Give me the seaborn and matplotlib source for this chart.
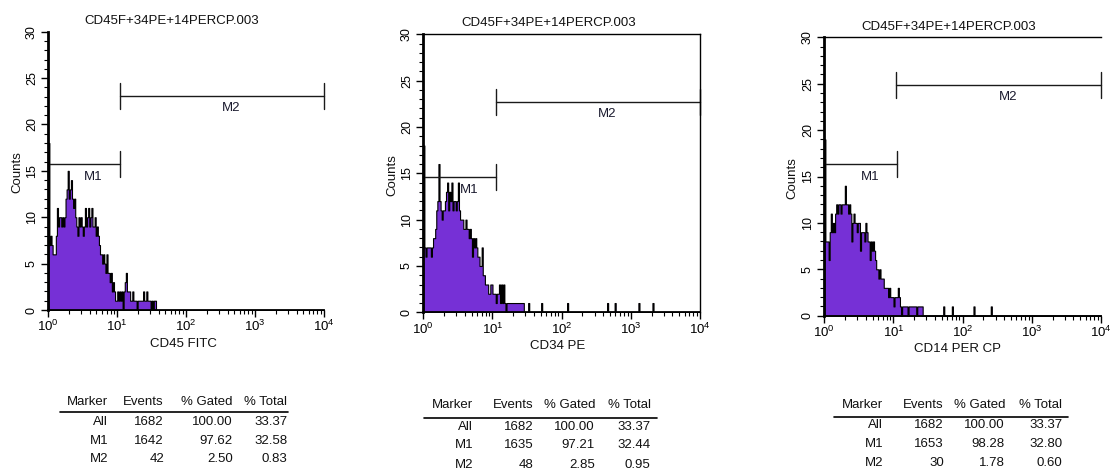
import numpy as np
import pandas as pd
import matplotlib
matplotlib.use("Agg")
import matplotlib.pyplot as plt
from matplotlib.lines import Line2D
from matplotlib.ticker import MultipleLocator, LogLocator, NullFormatter
import seaborn as sns

# ---------------- data ----------------
file_name = "CD45F+34PE+14PERCP.003"
channels = ["CD45 FITC", "CD34 PE", "CD14 PER CP"]
bins_per_decade = 64

# counts per channel (1/64 decade) starting at 10^0
cd45_counts = [18, 7, 8, 7, 6, 6, 6, 8, 11, 9, 10, 10, 9, 10, 9, 10, 12, 13, 15, 12,
               13, 14, 12, 11, 12, 10, 9, 8, 10, 9, 10, 9, 8, 9, 11, 9, 10, 11, 9, 10,
               11, 9, 9, 10, 8, 9, 8, 7, 6, 6, 5, 6, 5, 4, 6, 4, 4, 3, 4, 2,
               3, 2, 1, 1, 2, 1, 2, 1, 2, 0, 2, 3, 4, 2, 2, 2, 1, 1, 2, 1,
               1, 1, 0, 1, 1, 1, 1, 1, 2, 1, 1, 2, 1, 1, 1, 0, 1, 0, 1, 1]
cd45_outliers = []

cd34_counts = [18, 7, 6, 7, 7, 7, 7, 6, 7, 8, 8, 9, 11, 12, 16, 12, 11, 10, 11, 11,
               12, 13, 14, 11, 13, 12, 14, 11, 12, 12, 11, 12, 14, 11, 10, 10, 10, 9, 9, 10,
               9, 9, 8, 9, 8, 6, 8, 7, 8, 7, 6, 6, 5, 5, 7, 4, 4, 3, 3, 3,
               2, 2, 3, 3, 2, 2, 2, 1, 2, 2, 3, 1, 3, 1, 3, 1, 0, 1, 1, 1,
               1, 1, 1, 1, 1, 1, 1, 1, 1, 1, 1, 1, 1, 0, 0, 0, 0, 1]
cd34_outliers = [109, 133, 170, 177, 199, 212]

cd14_counts = [19, 8, 8, 8, 6, 9, 11, 9, 10, 9, 11, 12, 11, 12, 12, 11, 12, 12, 12, 14,
               12, 12, 11, 12, 11, 8, 10, 11, 10, 10, 9, 10, 10, 7, 9, 9, 9, 8, 10, 9,
               8, 8, 6, 8, 7, 8, 7, 6, 5, 5, 4, 5, 4, 4, 4, 3, 3, 3, 3, 2,
               3, 2, 2, 2, 1, 2, 2, 2, 3, 2, 1, 0, 1, 1, 1, 1, 1, 0, 1, 1,
               1, 1, 1, 1, 1, 0, 1, 1, 1, 1, 1]
cd14_outliers = [110, 118, 138, 154]

# marker gates (M1, M2) in channel units and display heights
m1_ranges = [(1.0, 10.8), (1.0, 11.1), (1.0, 11.1)]
m2_ranges = [(10.8, 10000.0), (11.1, 10000.0), (10.9, 10000.0)]
m1_levels = [15.7, 14.6, 16.3]
m2_levels = [23.1, 22.7, 24.9]

# statistics tables
table_header = ["Marker", "Events", "% Gated", "% Total"]
markers = ["All", "M1", "M2"]
events = [[1682, 1642, 42], [1682, 1635, 48], [1682, 1653, 30]]
pct_gated = [["100.00", "97.62", "2.50"], ["100.00", "97.21", "2.85"], ["100.00", "98.28", "1.78"]]
pct_total = [["33.37", "32.58", "0.83"], ["33.37", "32.44", "0.95"], ["33.37", "32.80", "0.60"]]

# ---------------- style ----------------
sns.set_style("ticks")
plt.rcParams["font.family"] = ["Liberation Sans", "DejaVu Sans"]
plt.rcParams["axes.edgecolor"] = "black"
plt.rcParams["xtick.color"] = "black"
plt.rcParams["ytick.color"] = "black"

PURPLE = "#7630d6"
W, H = 1110, 471
fig = plt.figure(figsize=(W / 100, H / 100), dpi=100)


def fx(px):
    return px / W


def fy(py):
    return 1 - py / H


# axes boxes in pixels: left, top, right, bottom
boxes = [(48.3, 31.7, 324, 310), (423.3, 34.3, 700, 312.3), (824.3, 37.3, 1101, 315.7)]
title_pos = [(171.5, 21.3), (548.3, 23.3), (949, 26.7)]
xlabel_pos = [(183, 344), (558, 346), (958, 349)]
ylabel_pos = [(17, 172), (392, 175), (792, 178)]
spine_sets = [("left", "bottom"), ("left", "bottom", "top", "right"), ("left", "bottom", "top")]

# table layout in pixels
tab_cols = [(108.3, 164, 232.7, 287.3), (473.3, 533.3, 595, 650.7), (883.3, 944, 1005, 1062.3)]
tab_rows = [(402, 422.3, 440.7, 459.5), (405, 427, 445.5, 464.7), (405.3, 425.3, 443.8, 462.5)]
tab_line = [(60, 288.3, 412.3), (424, 656.7, 418.3), (834, 1068.3, 416.7)]

all_counts = [cd45_counts, cd34_counts, cd14_counts]
all_outliers = [cd45_outliers, cd34_outliers, cd14_outliers]

n_bins = 4 * bins_per_decade
for k in range(3):
    counts = np.zeros(n_bins)
    counts[:len(all_counts[k])] = all_counts[k]
    for b in all_outliers[k]:
        counts[b] += 1
    df = pd.DataFrame({
        "value": 10 ** ((np.arange(n_bins) + 0.5) / bins_per_decade),
        "count": counts,
    })
    l, t, r, b = boxes[k]
    ax = fig.add_axes([fx(l), fy(b), (r - l) / W, (b - t) / H])
    sns.histplot(data=df, x="value", weights="count", binwidth=1 / bins_per_decade,
                 binrange=(0, 4), log_scale=True, element="step", fill=True,
                 color=PURPLE, edgecolor="black", linewidth=0.8, alpha=1, ax=ax)
    ax.set_xlim(1, 1e4)
    ax.set_ylim(0, 30)
    ax.set_xlabel("")
    ax.set_ylabel("")

    ax.yaxis.set_major_locator(MultipleLocator(5))
    ax.yaxis.set_minor_locator(MultipleLocator(1))
    ax.xaxis.set_major_locator(LogLocator(base=10, numticks=10))
    ax.xaxis.set_minor_locator(LogLocator(base=10, subs=np.arange(2, 10), numticks=20))
    ax.xaxis.set_minor_formatter(NullFormatter())
    ax.tick_params(axis="y", which="major", direction="out", length=5, width=1,
                   labelsize=9, labelrotation=90, pad=2.5)
    ax.tick_params(axis="y", which="minor", direction="out", length=3, width=0.8)
    ax.tick_params(axis="x", which="major", direction="out", length=5, width=1,
                   labelsize=9.5, pad=1.5)
    ax.tick_params(axis="x", which="minor", direction="out", length=3, width=0.8)
    for lab in ax.get_yticklabels():
        lab.set_verticalalignment("center")

    for s in ["left", "bottom", "top", "right"]:
        ax.spines[s].set_visible(s in spine_sets[k])
        ax.spines[s].set_linewidth(1.0)
    ax.spines["left"].set_linewidth(2.0)
    ax.spines["bottom"].set_linewidth(1.3)

    # markers
    for (a, bb), lvl, name in [(m1_ranges[k], m1_levels[k], "M1"), (m2_ranges[k], m2_levels[k], "M2")]:
        ax.plot([a, bb], [lvl, lvl], color="#1a1a1a", lw=1.0, clip_on=False)
        for xe in (a, bb):
            ax.plot([xe, xe], [lvl - 1.4, lvl + 1.4], color="#1a1a1a", lw=1.0, clip_on=False)
        xm = 10 ** ((np.log10(a) + np.log10(bb)) / 2)
        ax.text(xm, lvl - 1.35, name, ha="left", va="center", fontsize=9.5, color="#1a1a2e")

    fig.text(fx(title_pos[k][0]), fy(title_pos[k][1]), file_name, ha="center", va="center",
             fontsize=9.5, color="#111111")
    fig.text(fx(xlabel_pos[k][0]), fy(xlabel_pos[k][1]), channels[k], ha="center", va="center",
             fontsize=9.5, color="#111111")
    fig.text(fx(ylabel_pos[k][0]), fy(ylabel_pos[k][1]), "Counts", ha="center", va="center",
             rotation=90, fontsize=9.5, color="#111111")

    # statistics table
    cols = tab_cols[k]
    rows = tab_rows[k]
    for j, h in enumerate(table_header):
        fig.text(fx(cols[j]), fy(rows[0]), h, ha="right", va="center", fontsize=9.5, color="#111111")
    x0, x1, yl = tab_line[k]
    fig.add_artist(Line2D([fx(x0), fx(x1)], [fy(yl), fy(yl)], color="black", lw=1.2,
                          transform=fig.transFigure))
    for i in range(3):
        vals = [markers[i], str(events[k][i]), pct_gated[k][i], pct_total[k][i]]
        for j, v in enumerate(vals):
            fig.text(fx(cols[j]), fy(rows[i + 1]), v, ha="right", va="center", fontsize=9.5,
                     color="#111111")

fig.savefig("out.png", dpi=100)
